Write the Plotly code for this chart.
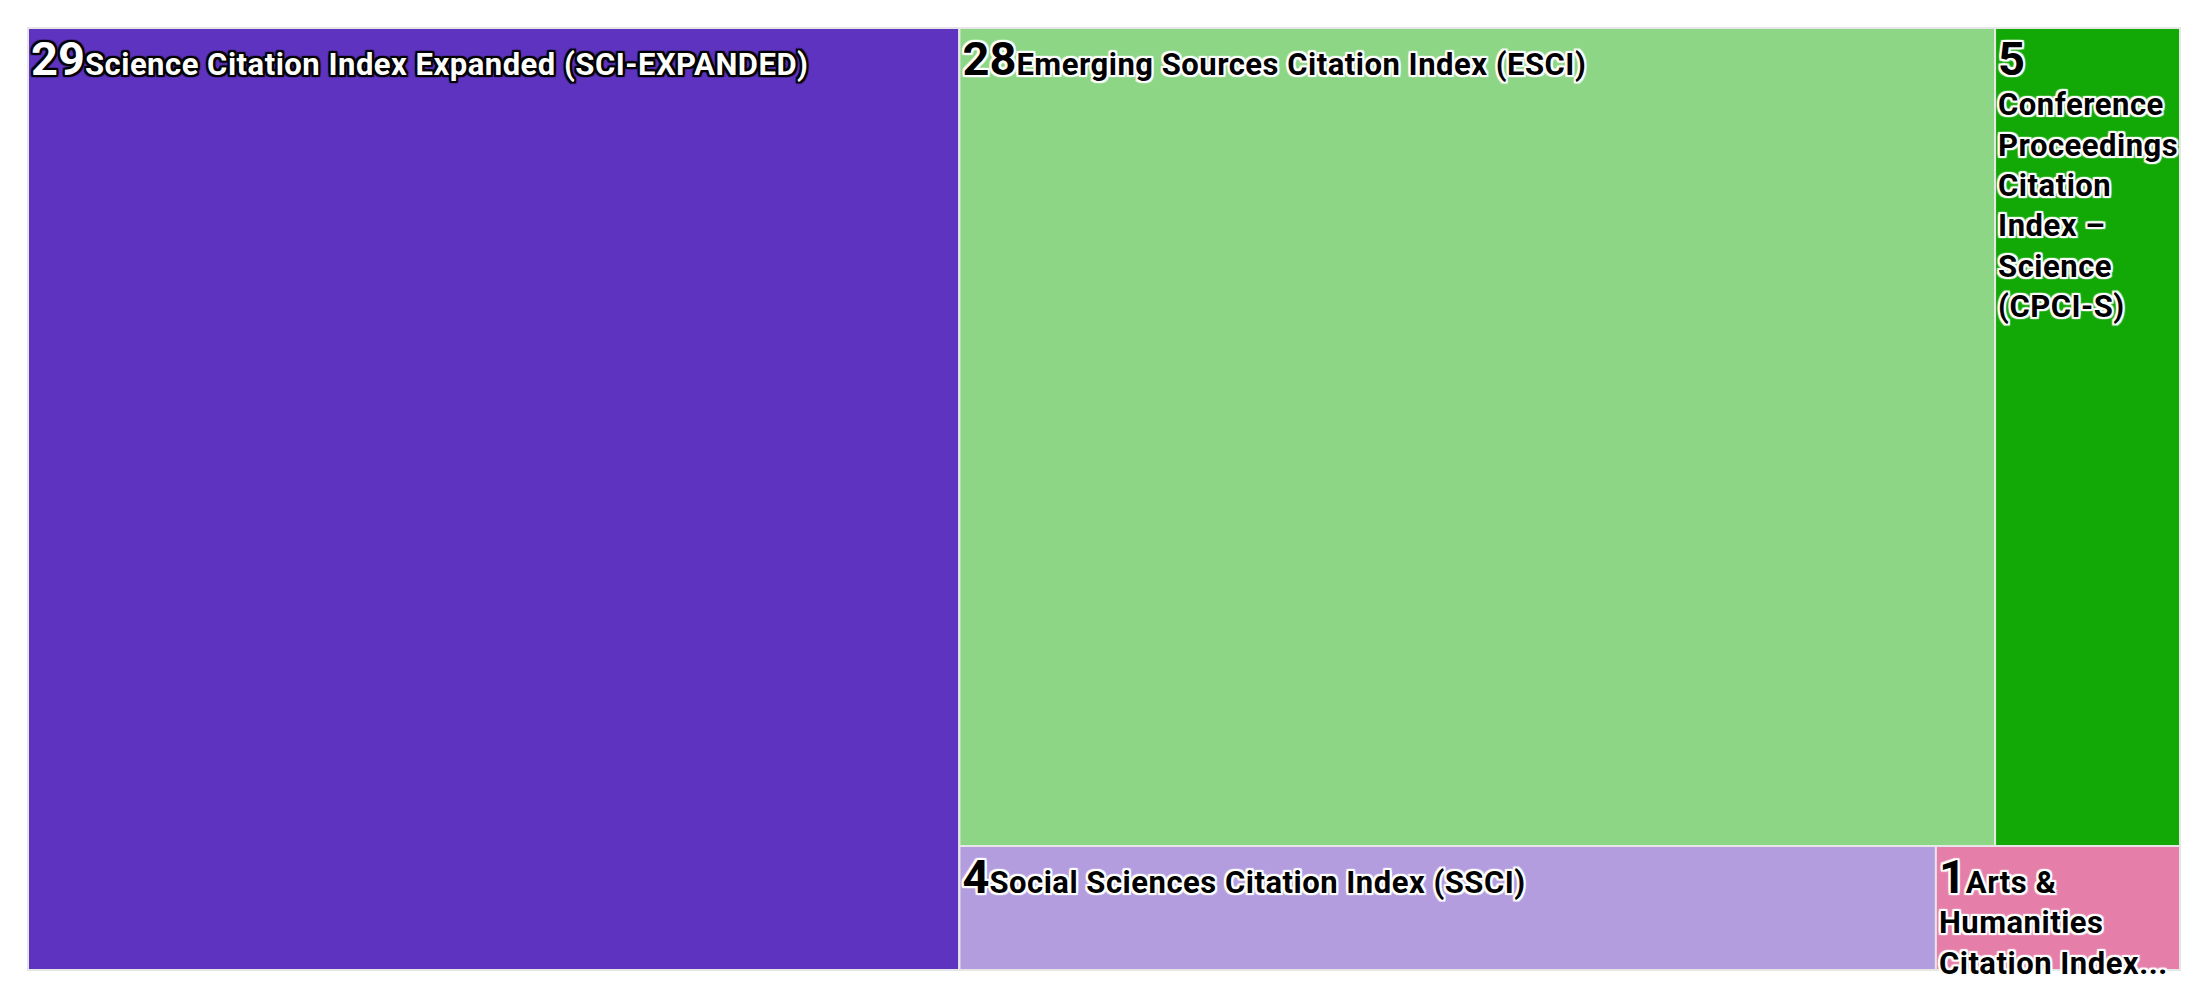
import plotly.graph_objects as go

# Web of Science indexes and record counts
indexes = [
    'Science Citation Index Expanded (SCI-EXPANDED)',
    'Emerging Sources Citation Index (ESCI)',
    'Conference Proceedings Citation Index – Science (CPCI-S)',
    'Social Sciences Citation Index (SSCI)',
    'Arts & Humanities Citation Index (A&HCI)',
]
counts = [29, 28, 5, 4, 1]

# labels as they appear in the tiles (wrapped / shortened)
tile_text = [
    'Science Citation Index Expanded (SCI-EXPANDED)',
    'Emerging Sources Citation Index (ESCI)',
    '<br>Conference<br>Proceedings<br>Citation<br>Index –<br>Science<br>(CPCI-S)',
    'Social Sciences Citation Index (SSCI)',
    'Arts &<br>Humanities<br>Citation Index...',
]
tile_colors = ['#5e33bf', '#8cd685', '#12a806', '#b39ddf', '#e57fa9']
text_colors = ['white', 'black', 'black', 'black', 'black']

# invisible grouping so the tiles are arranged like the original
tile_parents = ['', 'g_top', 'g_top', 'g_bottom', 'g_bottom']
groups = ['g_right', 'g_top', 'g_bottom']
group_parents = ['', 'g_right', 'g_right']


def outline(c):
    d = '2px'
    return ', '.join([
        f'{d} 0 1px {c}', f'-{d} 0 1px {c}', f'0 {d} 1px {c}', f'0 -{d} 1px {c}',
        f'{d} {d} 1px {c}', f'-{d} -{d} 1px {c}', f'{d} -{d} 1px {c}', f'-{d} {d} 1px {c}',
    ])


ids = indexes + groups
parents = tile_parents + group_parents
values = counts + [0] * len(groups)
texts = tile_text + [''] * len(groups)
templates = ["<span style='font-size:47px'>%{value}</span>"
             "<span style='letter-spacing:0.5px'>%{text}</span>"] * len(indexes) + [' '] * len(groups)
colors = tile_colors + ['rgba(0,0,0,0)'] * len(groups)
fcolors = text_colors + ['black'] * len(groups)
shadows = [outline('black' if c == 'white' else 'white') for c in text_colors] + ['none'] * len(groups)

fig = go.Figure(go.Treemap(
    ids=ids,
    labels=ids,
    parents=parents,
    values=values,
    text=texts,
    texttemplate=templates,
    textposition='top left',
    textfont=dict(family='Roboto', size=31, weight='bold', color=fcolors, shadow=shadows),
    marker=dict(colors=colors, line=dict(color='#e6e6e6', width=2),
                pad=dict(t=0, l=0, r=0, b=0)),
    tiling=dict(packing='slice-dice', pad=0),
    pathbar=dict(visible=False),
    sort=False,
    hoverinfo='label+value',
))

fig.update_layout(
    width=2192,
    height=992,
    margin=dict(t=20, l=20, r=20, b=30),
    paper_bgcolor='white',
    uniformtext=dict(minsize=31, mode='show'),
)

fig.write_html("out.html")
